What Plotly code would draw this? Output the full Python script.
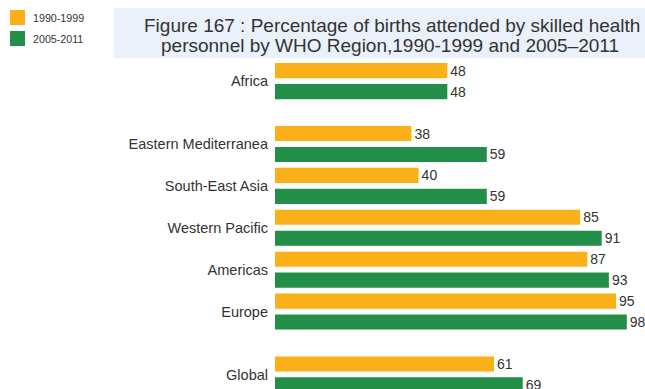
import plotly.graph_objects as go

regions = ["Africa", "Eastern Mediterranea", "South-East Asia", "Western Pacific",
           "Americas", "Europe", "Global"]
v_1990_1999 = [48, 38, 40, 85, 87, 95, 61]
v_2005_2011 = [48, 59, 59, 91, 93, 98, 69]
series_names = ["1990-1999", "2005-2011"]
block = [0, 1, 1, 1, 1, 1, 2]  # visual grouping (gaps between blocks)
title_lines = ["Figure 167 : Percentage of births attended by skilled health",
               "personnel by WHO Region,1990-1999 and 2005–2011"]

ORANGE = "#FBB01A"
GREEN = "#228E48"
TXT = "#333333"
FONT = "Liberation Sans, Arial, sans-serif"

pos = [i + 0.5 * b for i, b in enumerate(block)]

W, H = 645, 389
L, R, T, B = 275, 11, 56, 0
pw, ph = W - L - R, H - T - B
unit = 41.9
top_val = -0.6
bottom_val = top_val + ph / unit


def px_x(p):  # page pixel -> paper x
    return (p - L) / pw


def px_y(p):  # page pixel -> paper y
    return 1 + (T - p) / ph


fig = go.Figure()
colors = [ORANGE, GREEN]
offsets = [-0.43, 0.07]
for name, vals, col, off in zip(series_names, [v_1990_1999, v_2005_2011], colors, offsets):
    fig.add_trace(go.Bar(
        name=name, y=pos, x=vals, orientation="h",
        marker=dict(color=col, line=dict(width=0)),
        width=0.36, offset=off,
        text=[str(v) for v in vals], textposition="outside",
        textfont=dict(family=FONT, size=14, color=TXT), constraintext="none",
        cliponaxis=False, hoverinfo="x+name", showlegend=False,
    ))

shapes = [dict(
    type="rect", xref="paper", yref="paper", layer="below",
    x0=px_x(114), x1=px_x(645), y0=px_y(58), y1=px_y(8),
    fillcolor="#EAF1FA", line=dict(width=0),
)]
annotations = []
# legend (manual, to match the square keys)
for i, (name, col) in enumerate(zip(series_names, colors)):
    top = 10 + 21 * i
    shapes.append(dict(
        type="rect", xref="paper", yref="paper",
        x0=px_x(10), x1=px_x(25), y0=px_y(top + 15), y1=px_y(top),
        fillcolor=col, line=dict(width=0),
    ))
    annotations.append(dict(
        xref="paper", yref="paper", x=px_x(31), y=px_y(top + 7.5),
        xanchor="left", yanchor="middle", showarrow=False, text=name,
        font=dict(family=FONT, size=10.7, color=TXT),
    ))
# title
for line, cx, cy in zip(title_lines, [391.5, 389.5], [25.5, 45.5]):
    annotations.append(dict(
        xref="paper", yref="paper", x=px_x(cx), y=px_y(cy),
        xanchor="center", yanchor="middle", showarrow=False, text=line,
        font=dict(family=FONT, size=19, color=TXT),
    ))

fig.update_layout(
    width=W, height=H,
    margin=dict(l=L, r=R, t=T, b=B, pad=0, autoexpand=False),
    paper_bgcolor="white", plot_bgcolor="white",
    barmode="overlay",
    font=dict(family=FONT, color=TXT),
    showlegend=False,
    xaxis=dict(range=[0, 100], visible=False, fixedrange=True),
    yaxis=dict(
        range=[bottom_val, top_val],
        tickvals=pos, ticktext=regions,
        tickfont=dict(family=FONT, size=14.5, color=TXT),
        showgrid=False, zeroline=False, showline=False, ticks="",
        ticklabelstandoff=6,
        fixedrange=True,
    ),
    shapes=shapes,
    annotations=annotations,
)

# remove the browser's default 8px page margin so the figure fills the window
fig.write_html(
    "out.html",
    config={"displayModeBar": False},
    post_script="document.body.style.margin='0';document.body.style.overflow='hidden';",
)
